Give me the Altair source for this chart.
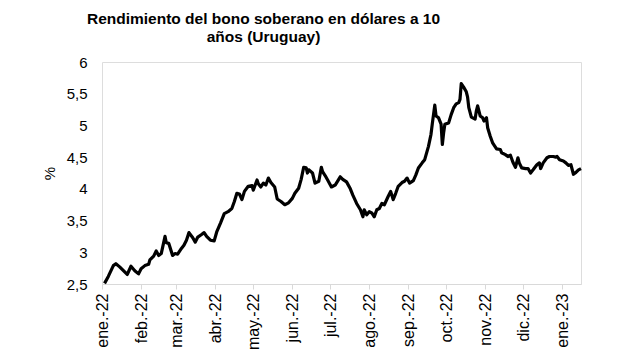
import altair as alt
import pandas as pd

# Data (daily-ish samples of the yield, %)
dates = [
    "2022-01-03", "2022-01-06", "2022-01-10", "2022-01-12", "2022-01-15", "2022-01-18", "2022-01-21",
    "2022-01-24", "2022-01-27", "2022-01-30",
    "2022-02-01", "2022-02-04", "2022-02-07", "2022-02-08", "2022-02-11", "2022-02-13", "2022-02-15",
    "2022-02-17", "2022-02-20", "2022-02-21", "2022-02-23", "2022-02-26", "2022-02-28",
    "2022-03-02", "2022-03-05", "2022-03-07", "2022-03-09", "2022-03-11", "2022-03-14", "2022-03-16",
    "2022-03-18", "2022-03-21", "2022-03-23", "2022-03-25", "2022-03-28", "2022-03-31",
    "2022-04-02", "2022-04-05", "2022-04-08", "2022-04-11", "2022-04-14", "2022-04-16", "2022-04-18",
    "2022-04-20", "2022-04-22", "2022-04-24", "2022-04-27", "2022-04-30",
    "2022-05-01", "2022-05-04", "2022-05-05", "2022-05-07", "2022-05-09", "2022-05-11", "2022-05-13",
    "2022-05-15", "2022-05-18", "2022-05-20", "2022-05-23", "2022-05-26", "2022-05-29",
    "2022-06-01", "2022-06-03", "2022-06-06", "2022-06-08", "2022-06-10", "2022-06-12", "2022-06-13",
    "2022-06-14", "2022-06-17", "2022-06-19", "2022-06-22", "2022-06-24", "2022-06-25", "2022-06-27",
    "2022-06-29",
    "2022-07-02", "2022-07-05", "2022-07-09", "2022-07-11", "2022-07-14", "2022-07-17", "2022-07-19",
    "2022-07-22", "2022-07-25", "2022-07-27", "2022-07-28", "2022-07-30",
    "2022-08-01", "2022-08-03", "2022-08-05", "2022-08-07", "2022-08-09", "2022-08-11", "2022-08-13",
    "2022-08-16", "2022-08-18", "2022-08-20", "2022-08-22", "2022-08-24", "2022-08-27", "2022-08-29",
    "2022-08-31",
    "2022-09-02", "2022-09-05", "2022-09-07", "2022-09-09", "2022-09-12", "2022-09-14", "2022-09-17",
    "2022-09-19", "2022-09-20", "2022-09-22", "2022-09-23", "2022-09-25", "2022-09-27", "2022-09-28",
    "2022-09-29", "2022-09-30",
    "2022-10-03", "2022-10-05", "2022-10-07", "2022-10-09", "2022-10-11", "2022-10-12", "2022-10-13",
    "2022-10-15", "2022-10-17", "2022-10-18", "2022-10-19", "2022-10-21", "2022-10-24", "2022-10-25",
    "2022-10-26", "2022-10-28", "2022-10-30", "2022-10-31",
    "2022-11-02", "2022-11-03", "2022-11-05", "2022-11-07", "2022-11-10", "2022-11-13", "2022-11-14",
    "2022-11-17", "2022-11-19", "2022-11-21", "2022-11-23", "2022-11-25", "2022-11-27", "2022-11-28",
    "2022-11-30",
    "2022-12-03", "2022-12-05", "2022-12-07", "2022-12-09", "2022-12-12", "2022-12-14", "2022-12-15",
    "2022-12-17", "2022-12-20", "2022-12-22", "2022-12-25", "2022-12-27", "2022-12-28", "2022-12-30",
    "2023-01-02", "2023-01-04", "2023-01-06", "2023-01-08", "2023-01-10", "2023-01-12", "2023-01-14",
    "2023-01-16",
]

yields = [
    2.51, 2.62, 2.79, 2.82, 2.77, 2.71, 2.65, 2.78, 2.71, 2.66,
    2.74, 2.79, 2.81, 2.88, 2.94, 3.02, 2.95, 2.98, 3.25, 3.15, 3.14, 2.95, 2.98,
    2.97, 3.06, 3.11, 3.19, 3.31, 3.23, 3.16, 3.24, 3.28, 3.31, 3.25, 3.19, 3.18,
    3.32, 3.46, 3.61, 3.64, 3.69, 3.80, 3.93, 3.92, 3.83, 3.96, 4.04, 4.05,
    3.98, 4.14, 4.08, 4.03, 4.09, 4.06, 4.17, 4.10, 4.03, 3.84, 3.80, 3.75, 3.78,
    3.85, 3.93, 4.01, 4.15, 4.34, 4.33, 4.25, 4.30, 4.25, 4.09, 4.12, 4.34, 4.27, 4.21, 4.14,
    4.03, 4.06, 4.19, 4.15, 4.11, 4.00, 3.90, 3.77, 3.67, 3.56, 3.67, 3.59,
    3.64, 3.62, 3.56, 3.67, 3.69, 3.77, 3.75, 3.88, 3.96, 3.83, 3.93, 4.04, 4.10, 4.12, 4.17,
    4.09, 4.13, 4.22, 4.33, 4.41, 4.46, 4.67, 4.86, 5.02, 5.32, 5.15, 5.12, 5.02, 4.70, 4.88, 5.02,
    5.04, 5.17, 5.28, 5.34, 5.36, 5.41, 5.66, 5.60, 5.53, 5.45, 5.28, 5.13, 5.10, 5.23, 5.31, 5.15, 5.12, 5.07,
    5.12, 4.96, 4.83, 4.72, 4.63, 4.62, 4.57, 4.54, 4.51, 4.53, 4.42, 4.34, 4.49, 4.41, 4.33,
    4.32, 4.32, 4.25, 4.30, 4.38, 4.41, 4.32, 4.41, 4.49, 4.51, 4.51, 4.50, 4.51, 4.46,
    4.44, 4.41, 4.37, 4.38, 4.23, 4.26, 4.30, 4.32,
]

y_ticks = [2.5, 3, 3.5, 4, 4.5, 5, 5.5, 6]
month_labels = ["ene.", "feb.", "mar.", "abr.", "may.", "jun.", "jul.", "ago.", "sep.", "oct.", "nov.", "dic."]
title_lines = ["Rendimiento del bono soberano en dólares a 10", "años (Uruguay)"]

df = pd.DataFrame({"fecha": dates, "rend": yields})

x_ticks = [alt.DateTime(year=2022, month=m, date=1) for m in range(1, 13)] + [
    alt.DateTime(year=2023, month=1, date=1)
]
month_js = "[" + ",".join("'" + m + "'" for m in month_labels) + "]"

FONT = "Liberation Sans"

chart = (
    alt.Chart(df)
    .mark_line(color="#000000", strokeWidth=3.2, strokeJoin="round")
    .encode(
        x=alt.X(
            "fecha:T",
            scale=alt.Scale(
                domain=[
                    alt.DateTime(year=2022, month=1, date=1),
                    alt.DateTime(year=2023, month=1, date=16),
                ]
            ),
            axis=alt.Axis(
                title=None,
                values=x_ticks,
                labelExpr=month_js + "[month(datum.value)] + '-' + timeFormat(datum.value, '%y')",
                labelAngle=-90,
                labelFont=FONT,
                labelFontSize=16,
                labelColor="#000000",
                labelPadding=4,
                labelOverlap=False,
                labelBound=False,
                labelFlush=False,
                grid=False,
                domainColor="#d9d9d9",
                domainWidth=1,
                tickColor="#d9d9d9",
                tickSize=5,
            ),
        ),
        y=alt.Y(
            "rend:Q",
            scale=alt.Scale(domain=[2.5, 6], nice=False, zero=False),
            axis=alt.Axis(
                title="%",
                values=y_ticks,
                labelExpr="replace(format(datum.value, '.1~f'), '.', ',')",
                labelFont=FONT,
                labelFontSize=15,
                labelColor="#000000",
                labelPadding=15,
                labelOverlap=False,
                labelBound=False,
                labelFlush=False,
                grid=False,
                domain=False,
                ticks=False,
                titleFont=FONT,
                titleFontSize=15,
                titleFontWeight="normal",
                titleColor="#000000",
                titleAngle=-90,
                titleBaseline="middle",
                titleAlign="center",
                titleX=-53,
                titleY=111,
            ),
        ),
    )
    .properties(
        width=479,
        height=222,
        title=alt.TitleParams(
            text=title_lines,
            font=FONT,
            fontSize=15.5,
            fontWeight="bold",
            color="#000000",
            anchor="middle",
            frame="group",
            dx=-78,
            offset=10,
            lineHeight=18,
        ),
        autosize=alt.AutoSizeParams(type="none"),
        padding={"left": 102, "top": 62, "right": 36, "bottom": 72},
    )
    .configure_view(stroke=None)
    .configure(background="#ffffff")
)

chart.save("out.html", embed_options={"renderer": "svg", "actions": False})
